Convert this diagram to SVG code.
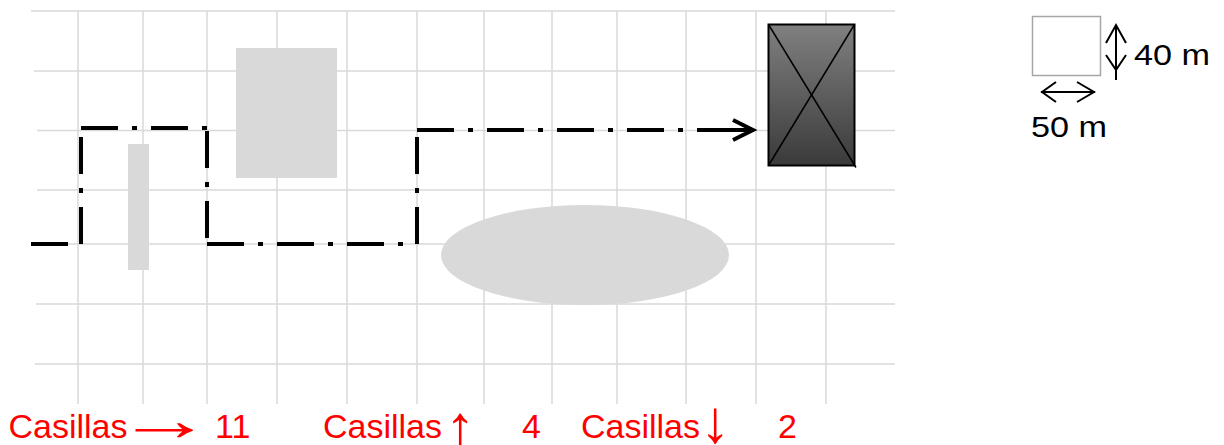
<svg xmlns="http://www.w3.org/2000/svg" width="1224" height="445" viewBox="0 0 1224 445">
<style>
.grid line{stroke:#d9d9d9;stroke-width:1.5}
.area{fill:#d9d9d9;stroke:none}
.route{fill:none;stroke:#000;stroke-width:4;stroke-dasharray:37 14 5 14}
.solid{fill:none;stroke:#000;stroke-width:4}
.dim{fill:none;stroke:#000;stroke-width:2}
.lbl{font-family:"Liberation Sans",Arial,sans-serif;font-size:34px;fill:#ff0000}
.arw{font-size:60px}
.leg{font-family:"Liberation Sans",Arial,sans-serif;font-size:30px;fill:#000}
</style>
<defs>
<linearGradient id="dark" x1="0" y1="0" x2="0" y2="1">
<stop offset="0" stop-color="#808080"/>
<stop offset="1" stop-color="#3a3a3a"/>
</linearGradient>
</defs>
<rect width="1224" height="445" fill="#fff"/>
<g id="grid" class="grid">
<line x1="31" y1="11" x2="895" y2="11"/>
<line x1="34" y1="71" x2="895" y2="71"/>
<line x1="37" y1="130.5" x2="895" y2="130.5"/>
<line x1="37" y1="190" x2="895" y2="190"/>
<line x1="36" y1="244" x2="895" y2="244"/>
<line x1="36" y1="304" x2="895" y2="304"/>
<line x1="35" y1="364" x2="895" y2="364"/>
<line x1="78" y1="11" x2="78" y2="404"/>
<line x1="143" y1="11" x2="143" y2="404"/>
<line x1="207" y1="11" x2="207" y2="404"/>
<line x1="277" y1="11" x2="277" y2="404"/>
<line x1="347" y1="11" x2="347" y2="404"/>
<line x1="417" y1="11" x2="417" y2="404"/>
<line x1="484" y1="11" x2="484" y2="404"/>
<line x1="552" y1="11" x2="552" y2="404"/>
<line x1="617" y1="11" x2="617" y2="404"/>
<line x1="686" y1="11" x2="686" y2="404"/>
<line x1="756" y1="11" x2="756" y2="404"/>
<line x1="826" y1="11" x2="826" y2="404"/>
</g>
<g id="obstacle-thin"><rect class="area" x="128" y="144" width="21" height="126"/></g>
<g id="obstacle-rect"><rect class="area" x="236" y="48" width="101" height="130"/></g>
<g id="obstacle-ellipse"><ellipse class="area" cx="585" cy="255" rx="144" ry="50"/></g>
<g id="target">
<rect x="768.5" y="24.5" width="86" height="141" fill="url(#dark)" stroke="#000" stroke-width="2"/>
<line x1="768.5" y1="24.5" x2="856" y2="167.5" stroke="#000" stroke-width="1.5"/>
<line x1="854.5" y1="24.5" x2="768.5" y2="165.5" stroke="#000" stroke-width="1.5"/>
</g>
<g id="connectors">
<path class="route" d="M31,244 H81"/>
<path class="route" d="M81,244 V128"/>
<path class="route" d="M81,128 H207"/>
<path class="route" d="M207,131 V244"/>
<path class="route" d="M207,244 H417"/>
<path class="route" d="M417,244 V130"/>
<path class="route" d="M417,130 H697"/>
<path class="solid" d="M697,130 H751"/>
<path class="solid" d="M733,120 L753,130 L733,140"/>
</g>
<g id="legend">
<rect x="1032.5" y="16.5" width="68" height="59" fill="#fff" stroke="#a6a6a6" stroke-width="1.5"/>
<path class="dim" d="M1116,25 V80 M1106,43 L1116,25 L1126,43 M1106,55 L1116,70 L1126,55"/>
<path class="dim" d="M1041,92 H1095 M1056,82 L1042,92 L1056,102 M1077,82 L1094,92 L1077,102"/>
<text class="leg" x="1134" y="65" textLength="76" lengthAdjust="spacingAndGlyphs">40 m</text>
<text class="leg" x="1031" y="137" textLength="76" lengthAdjust="spacingAndGlyphs">50 m</text>
</g>
<g id="label-right">
<text class="lbl" y="438"><tspan x="8.5">Casillas</tspan><tspan class="arw" x="116" y="440" textLength="97" lengthAdjust="spacingAndGlyphs">→</tspan><tspan x="215" y="438">11</tspan></text>
</g>
<g id="label-up">
<text class="lbl" y="438"><tspan x="323">Casillas</tspan><tspan class="arw" x="445" y="447">↑</tspan><tspan x="522" y="438">4</tspan></text>
</g>
<g id="label-down">
<text class="lbl" y="438"><tspan x="581">Casillas</tspan><tspan class="arw" x="700" y="442">↓</tspan><tspan x="778" y="438">2</tspan></text>
</g>
</svg>
